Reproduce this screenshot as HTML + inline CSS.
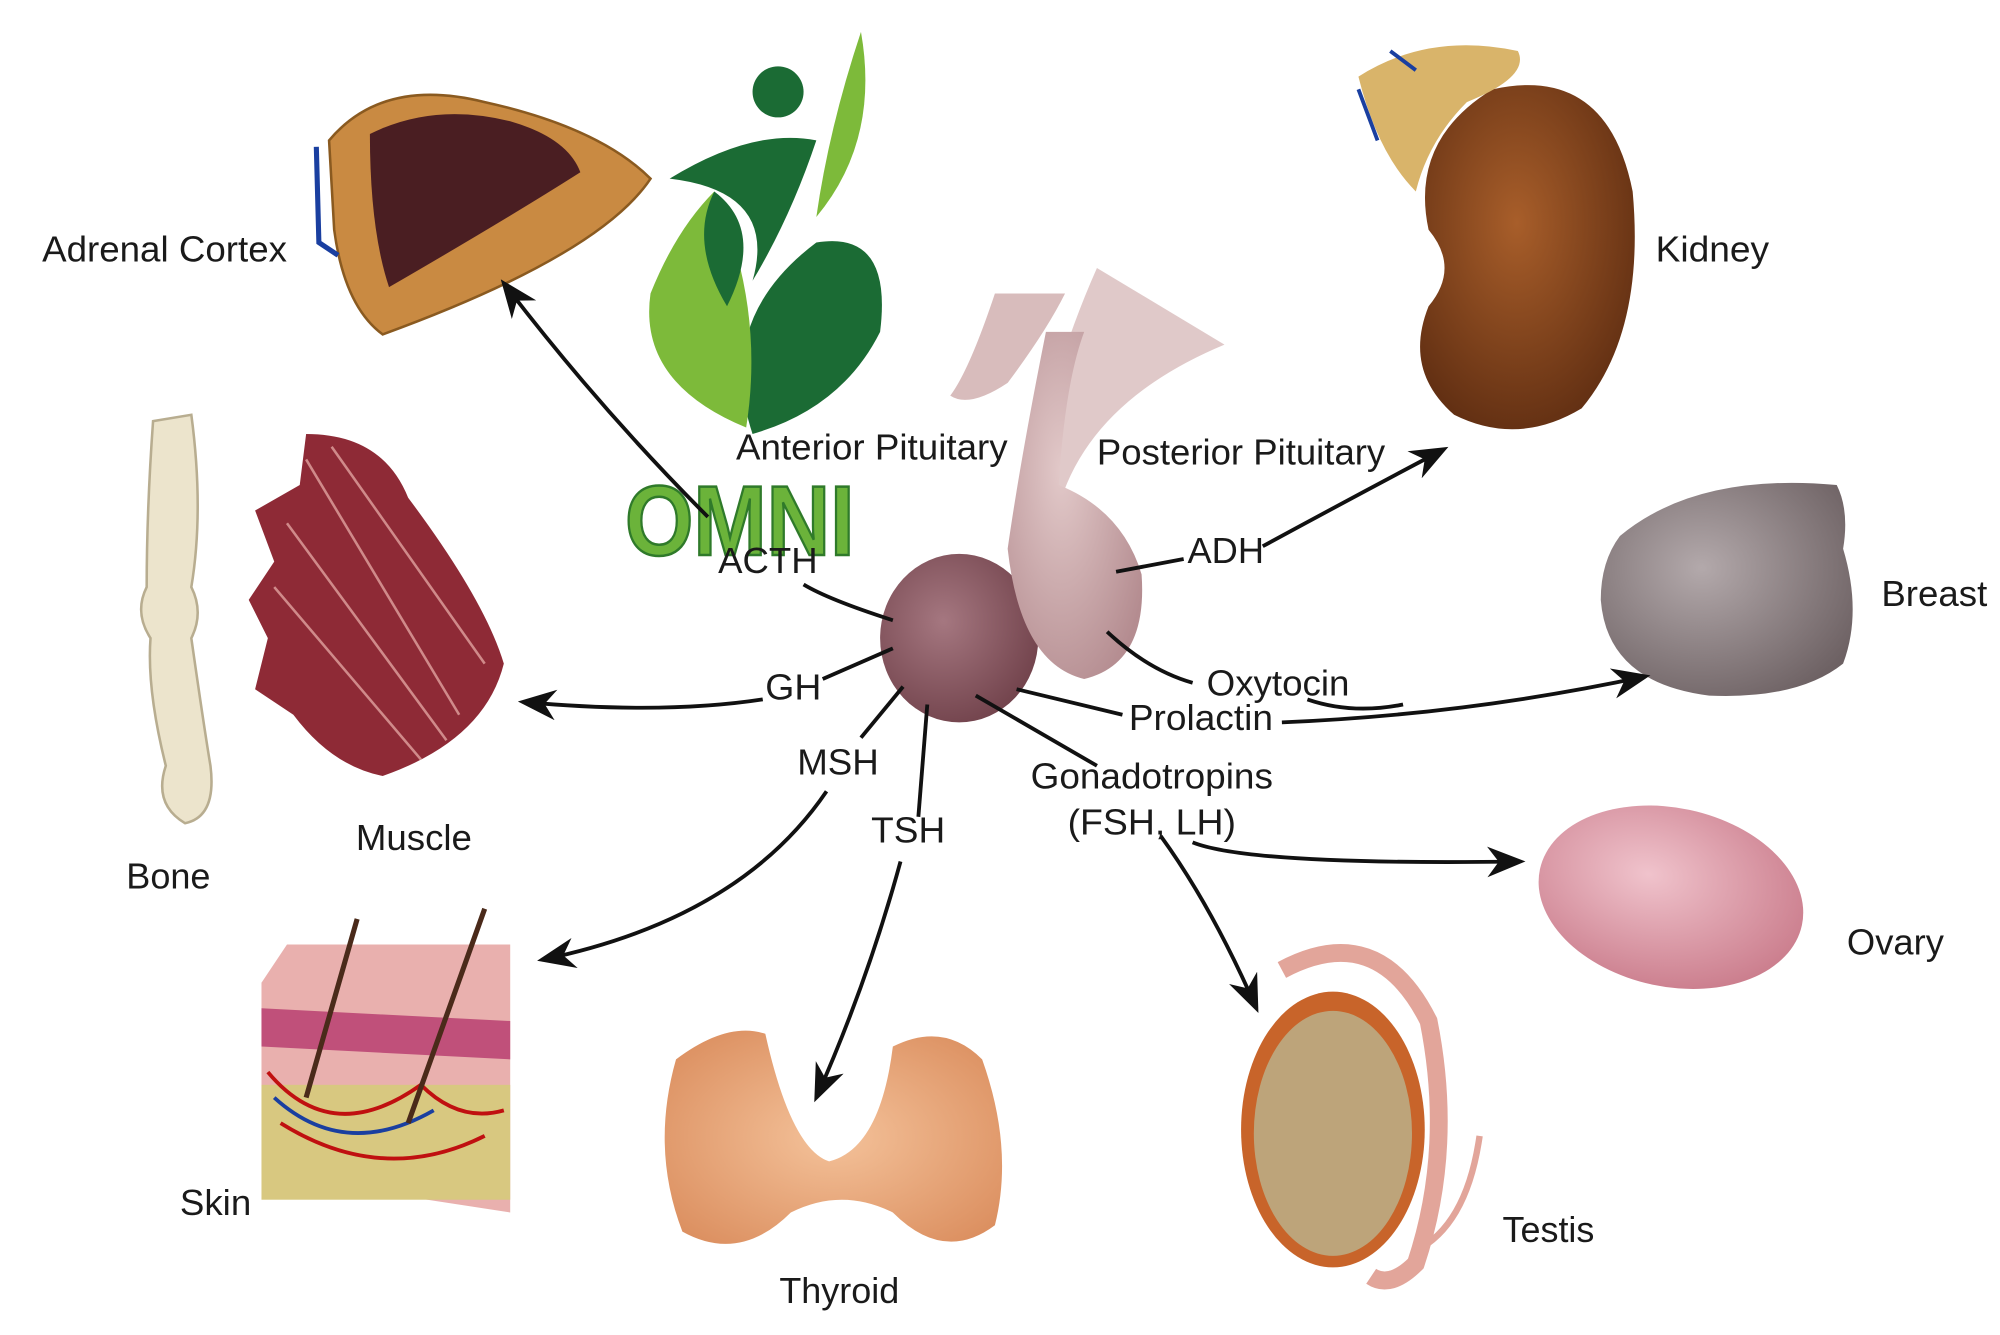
<!DOCTYPE html>
<html><head><meta charset="utf-8"><style>
html,body{margin:0;padding:0;background:#fff;}
svg{display:block}
text{font-family:"Liberation Sans",sans-serif;fill:#1a1a1a;}
</style></head><body>
<svg width="2000" height="1335" viewBox="0 0 1568 1046" preserveAspectRatio="none" xmlns="http://www.w3.org/2000/svg">
<defs>
<marker id="a" viewBox="0 0 30 24" refX="26" refY="12" markerWidth="30" markerHeight="24" orient="auto" markerUnits="userSpaceOnUse">
<path d="M0,0 L30,12 L0,24 L9,12 Z" fill="#111"/>
</marker>
<radialGradient id="ant" cx="0.4" cy="0.4" r="0.7"><stop offset="0" stop-color="#a57780"/><stop offset="1" stop-color="#6e3f48"/></radialGradient>
<radialGradient id="post" cx="0.4" cy="0.4" r="0.7"><stop offset="0" stop-color="#e2c9c9"/><stop offset="1" stop-color="#b48c90"/></radialGradient>
<radialGradient id="kid" cx="0.45" cy="0.4" r="0.7"><stop offset="0" stop-color="#a85e2a"/><stop offset="1" stop-color="#5a2a10"/></radialGradient>
<radialGradient id="br" cx="0.4" cy="0.4" r="0.7"><stop offset="0" stop-color="#b3a9ab"/><stop offset="1" stop-color="#6d6163"/></radialGradient>
<radialGradient id="ov" cx="0.4" cy="0.4" r="0.7"><stop offset="0" stop-color="#f0c3cc"/><stop offset="1" stop-color="#c87888"/></radialGradient>
<radialGradient id="thy" cx="0.5" cy="0.5" r="0.7"><stop offset="0" stop-color="#f4c29a"/><stop offset="1" stop-color="#d98a5a"/></radialGradient>
</defs>

<!-- Adrenal cortex -->
<path d="M258,110 Q300,60 380,80 Q470,100 510,140 Q470,200 300,262 Q270,240 262,180 Z" fill="#c98a42" stroke="#8a5a20" stroke-width="2"/>
<path d="M290,105 Q340,80 400,95 Q445,108 455,135 Q400,170 305,225 Q290,180 290,105 Z" fill="#4a1e22"/>
<path d="M248,115 L250,190 L265,200" stroke="#1a3fa0" stroke-width="4" fill="none"/>

<!-- Logo -->
<circle cx="610" cy="72" r="20" fill="#1b6b34"/>
<path d="M525,140 Q590,100 640,110 Q620,170 590,220 Q610,150 525,140 Z" fill="#1b6b34"/>
<path d="M675,25 Q690,110 640,170 Q650,100 675,25 Z" fill="#7dba3a"/>
<path d="M590,340 Q560,250 640,190 Q700,180 690,260 Q660,320 590,340 Z" fill="#1b6b34"/>
<path d="M585,335 Q500,300 510,230 Q530,180 560,150 Q600,240 585,335 Z" fill="#7dba3a"/>
<path d="M570,240 Q540,190 560,150 Q600,180 570,240 Z" fill="#1b6b34"/>
<text x="490" y="435" font-size="78" font-weight="bold" style="fill:#6bb33a" stroke="#2f7a2a" stroke-width="2" textLength="180" lengthAdjust="spacingAndGlyphs">OMNI</text>

<!-- Kidney -->
<path d="M1170,70 Q1260,50 1280,150 Q1290,260 1240,320 Q1190,350 1140,325 Q1100,290 1120,240 Q1145,210 1120,180 Q1105,110 1170,70 Z" fill="url(#kid)"/>
<path d="M1065,60 Q1120,25 1190,40 Q1200,60 1150,80 Q1120,110 1110,150 Q1080,120 1065,60 Z" fill="#d9b46a"/>
<path d="M1090,40 L1110,55 M1065,70 L1080,110" stroke="#1a3fa0" stroke-width="3"/>

<!-- Breast -->
<path d="M1270,420 Q1330,370 1440,380 Q1450,400 1445,430 Q1460,480 1445,520 Q1410,548 1340,545 Q1260,535 1255,470 Q1255,440 1270,420 Z" fill="url(#br)"/>

<!-- Ovary -->
<ellipse cx="1310" cy="703" rx="105" ry="70" transform="rotate(12 1310 703)" fill="url(#ov)"/>

<!-- Testis -->
<ellipse cx="1045" cy="885" rx="72" ry="108" fill="#c8642a"/>
<ellipse cx="1045" cy="888" rx="62" ry="96" fill="#bda47a"/>
<path d="M1005,760 Q1080,720 1120,800 Q1140,900 1110,990 Q1090,1010 1075,1000" stroke="#e2a59a" stroke-width="14" fill="none"/>
<path d="M1110,980 Q1150,960 1160,890" stroke="#e2a59a" stroke-width="5" fill="none"/>

<!-- Thyroid -->
<path d="M530,830 Q570,800 600,810 Q620,900 650,910 Q690,900 700,820 Q740,800 770,830 Q795,900 780,960 Q740,990 700,950 Q660,930 620,950 Q580,990 535,965 Q510,900 530,830 Z" fill="url(#thy)"/>

<!-- Skin -->
<path d="M205,770 L225,740 L400,740 L400,950 L205,920 Z" fill="#e9b0ae"/>
<rect x="205" y="850" width="195" height="90" fill="#d8c880"/>
<path d="M205,790 L400,800 L400,830 L205,820 Z" fill="#c0507a"/>
<path d="M210,840 Q260,900 330,850 Q360,880 395,870 M220,880 Q300,930 380,890" stroke="#c01010" stroke-width="3" fill="none"/>
<path d="M215,860 Q270,910 340,870" stroke="#1a3fa0" stroke-width="3" fill="none"/>
<path d="M240,860 L280,720 M320,880 L380,712" stroke="#4a2a1a" stroke-width="4"/>

<!-- Bone -->
<path d="M120,330 L150,325 Q160,400 150,460 Q160,480 150,500 Q160,570 165,600 Q170,640 145,645 Q120,630 130,600 Q115,540 118,500 Q105,480 115,460 Q115,400 120,330 Z" fill="#ece4cc" stroke="#b8ad90" stroke-width="2"/>

<!-- Muscle -->
<path d="M240,340 Q300,340 320,390 Q380,470 395,520 Q380,580 300,608 Q260,600 230,560 L200,540 L210,500 L195,470 L215,440 L200,400 L235,380 Z" fill="#8e2a36"/>
<path d="M240,360 L360,560 M225,410 L350,580 M215,460 L330,595 M260,350 L380,520" stroke="#d08a8a" stroke-width="2"/>

<!-- Pituitary -->
<path d="M780,230 Q760,290 745,310 Q760,320 790,300 Q820,260 835,230 Z" fill="#d8bcbc"/>
<path d="M860,210 Q820,300 805,400 L825,420 Q840,320 960,270 Z" fill="#d8bcbc" opacity="0.8"/>
<ellipse cx="752" cy="500" rx="62" ry="66" fill="url(#ant)"/>
<path d="M820,260 Q800,360 790,430 Q800,520 850,532 Q900,520 895,450 Q880,400 830,380 Q835,300 850,260 Z" fill="url(#post)"/>

<!-- Arrows -->
<g stroke="#111" stroke-width="3" fill="none">
<path d="M700,486 Q650,470 630,458"/>
<path d="M555,405 Q470,320 395,222" marker-end="url(#a)"/>
<path d="M700,508 L645,532"/>
<path d="M598,548 Q520,560 410,550" marker-end="url(#a)"/>
<path d="M708,538 L675,578"/>
<path d="M648,620 Q580,720 425,752" marker-end="url(#a)"/>
<path d="M727,552 L720,640"/>
<path d="M706,675 Q680,770 640,860" marker-end="url(#a)"/>
<path d="M765,545 L860,600"/>
<path d="M910,655 Q950,710 985,790" marker-end="url(#a)"/>
<path d="M935,660 Q980,678 1192,675" marker-end="url(#a)"/>
<path d="M797,540 L880,560"/>
<path d="M1005,566 Q1150,560 1290,530" marker-end="url(#a)"/>
<path d="M868,495 Q900,525 935,535"/>
<path d="M1025,548 Q1060,560 1100,552"/>
<path d="M875,448 L928,438"/>
<path d="M990,428 Q1060,390 1132,352" marker-end="url(#a)"/>
</g>

<!-- Labels -->
<g font-size="28">
<text x="33" y="205" textLength="192" lengthAdjust="spacingAndGlyphs">Adrenal Cortex</text>
<text x="1298" y="205" textLength="89" lengthAdjust="spacingAndGlyphs">Kidney</text>
<text x="1475" y="475" textLength="83" lengthAdjust="spacingAndGlyphs">Breast</text>
<text x="1448" y="748" textLength="76" lengthAdjust="spacingAndGlyphs">Ovary</text>
<text x="1178" y="973" textLength="72" lengthAdjust="spacingAndGlyphs">Testis</text>
<text x="611" y="1021" textLength="94" lengthAdjust="spacingAndGlyphs">Thyroid</text>
<text x="141" y="952" textLength="56" lengthAdjust="spacingAndGlyphs">Skin</text>
<text x="99" y="696" textLength="66" lengthAdjust="spacingAndGlyphs">Bone</text>
<text x="279" y="666" textLength="91" lengthAdjust="spacingAndGlyphs">Muscle</text>
<text x="577" y="360" textLength="213" lengthAdjust="spacingAndGlyphs">Anterior Pituitary</text>
<text x="860" y="364" textLength="226" lengthAdjust="spacingAndGlyphs">Posterior Pituitary</text>
<text x="563" y="449" textLength="78" lengthAdjust="spacingAndGlyphs">ACTH</text>
<text x="931" y="441" textLength="60" lengthAdjust="spacingAndGlyphs">ADH</text>
<text x="600" y="548" textLength="44" lengthAdjust="spacingAndGlyphs">GH</text>
<text x="946" y="545" textLength="112" lengthAdjust="spacingAndGlyphs">Oxytocin</text>
<text x="885" y="572" textLength="113" lengthAdjust="spacingAndGlyphs">Prolactin</text>
<text x="625" y="607" textLength="64" lengthAdjust="spacingAndGlyphs">MSH</text>
<text x="683" y="660" textLength="58" lengthAdjust="spacingAndGlyphs">TSH</text>
<text x="808" y="618" textLength="190" lengthAdjust="spacingAndGlyphs">Gonadotropins</text>
<text x="837" y="654" textLength="132" lengthAdjust="spacingAndGlyphs">(FSH, LH)</text>
</g>
</svg>
</body></html>
